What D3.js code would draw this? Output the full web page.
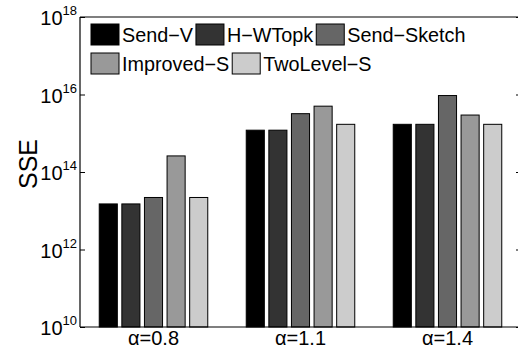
<!DOCTYPE html>
<html>
<head>
<meta charset="utf-8">
<script src="https://cdn.jsdelivr.net/npm/d3@7"></script>
<style>
  html, body { margin: 0; padding: 0; background: #fff; }
  svg { display: block; font-family: "Liberation Sans", Arial, Helvetica, sans-serif; }
</style>
</head>
<body>
<svg id="chart" width="518" height="353"></svg>
<script>
// ---- data ----
const categories = ["α=0.8", "α=1.1", "α=1.4"];
const seriesNames = ["Send−V", "H−WTopk", "Send−Sketch", "Improved−S", "TwoLevel−S"];
const sendV       = [1.5e13, 1.2e15, 1.7e15];
const hWTopk      = [1.5e13, 1.2e15, 1.7e15];
const sendSketch  = [2.2e13, 3.2e15, 9.4e15];
const improvedS   = [2.6e14, 5.0e15, 2.95e15];
const twoLevelS   = [2.2e13, 1.7e15, 1.7e15];
const seriesValues = [sendV, hWTopk, sendSketch, improvedS, twoLevelS];
const seriesColors = ["#000000", "#333333", "#666666", "#999999", "#cccccc"];
const tickExponents = [10, 12, 14, 16, 18];

// ---- layout ----
const svg = d3.select("#chart");
const mLeft = 80, mRight = 521, mTop = 17, mBottom = 327;

const x0 = d3.scaleBand().domain(categories).range([mLeft, mRight]).padding(0);
const step = x0.bandwidth();
const x1 = d3.scaleBand().domain(seriesNames)
  .range([step * 0.5 - step * 0.769 / 2, step * 0.5 + step * 0.769 / 2])
  .paddingInner(0.2).paddingOuter(0.1);
const y = d3.scaleLog().domain([1e10, 1e18]).range([mBottom, mTop]);

// bars
const groups = svg.append("g").selectAll("g")
  .data(categories).join("g")
  .attr("transform", d => `translate(${x0(d)},0)`);

groups.selectAll("rect")
  .data((c, ci) => seriesNames.map((s, si) => ({ s, si, v: seriesValues[si][ci] })))
  .join("rect")
  .attr("x", d => x1(d.s))
  .attr("width", x1.bandwidth())
  .attr("y", d => y(d.v))
  .attr("height", d => y(1e10) - y(d.v))
  .attr("fill", d => seriesColors[d.si])
  .attr("stroke", "#000")
  .attr("stroke-width", 1);

// axes frame
const frame = svg.append("g").attr("stroke", "#000").attr("stroke-width", 1.2).attr("fill", "none");
frame.append("line").attr("x1", mLeft).attr("x2", mLeft).attr("y1", mTop).attr("y2", mBottom);
frame.append("line").attr("x1", mLeft).attr("x2", mRight).attr("y1", mBottom).attr("y2", mBottom);
frame.append("line").attr("x1", mLeft).attr("x2", mRight).attr("y1", mTop).attr("y2", mTop);
frame.append("line").attr("x1", mRight).attr("x2", mRight).attr("y1", mTop).attr("y2", mBottom);

// y ticks (left and right, inward) + labels
const tickVals = tickExponents.map(e => Math.pow(10, e));
const yAxisL = d3.axisLeft(y).tickValues(tickVals).tickSizeInner(-5).tickSizeOuter(0).tickFormat("");
const gL = svg.append("g").attr("transform", `translate(${mLeft},0)`).call(yAxisL);
gL.select(".domain").remove();
gL.selectAll(".tick line").attr("stroke", "#000");
const yAxisR = d3.axisRight(y).tickValues(tickVals).tickSizeInner(-5).tickSizeOuter(0).tickFormat("");
const gR = svg.append("g").attr("transform", `translate(${mRight},0)`).call(yAxisR);
gR.select(".domain").remove();
gR.selectAll(".tick line").attr("stroke", "#000");

const labels = svg.append("g");
tickExponents.forEach(e => {
  const t = labels.append("text")
    .attr("x", mLeft - 3)
    .attr("y", y(Math.pow(10, e)) + 8)
    .attr("text-anchor", "end")
    .attr("font-size", 20)
    .attr("fill", "#000");
  t.append("tspan").text("10");
  t.append("tspan").attr("dy", -10).attr("font-size", 13).text(String(e));
});

// x labels
svg.append("g").selectAll("text")
  .data(categories).join("text")
  .attr("x", d => x0(d) + step / 2)
  .attr("y", 345)
  .attr("text-anchor", "middle")
  .attr("font-size", 20)
  .attr("fill", "#000")
  .text(d => d);

// y title
svg.append("text")
  .attr("transform", `translate(37, ${(mTop + mBottom) / 2 - 8}) rotate(-90)`)
  .attr("text-anchor", "middle")
  .attr("font-size", 25)
  .attr("fill", "#000")
  .text("SSE");

// legend (flowing rows)
const legendRows = [[0, 1, 2], [3, 4]];
const rowTops = [24, 53];
const leg = svg.append("g");
legendRows.forEach((row, ri) => {
  let cx = 91;
  row.forEach(si => {
    leg.append("rect")
      .attr("x", cx).attr("y", rowTops[ri])
      .attr("width", 28).attr("height", 21)
      .attr("fill", seriesColors[si])
      .attr("stroke", "#000").attr("stroke-width", 1);
    const t = leg.append("text")
      .attr("x", cx + 31)
      .attr("y", rowTops[ri] + 18)
      .attr("font-size", 19.8)
      .attr("fill", "#000")
      .text(seriesNames[si]);
    cx = cx + 31 + t.node().getComputedTextLength() + 3;
  });
});
</script>
</body>
</html>
